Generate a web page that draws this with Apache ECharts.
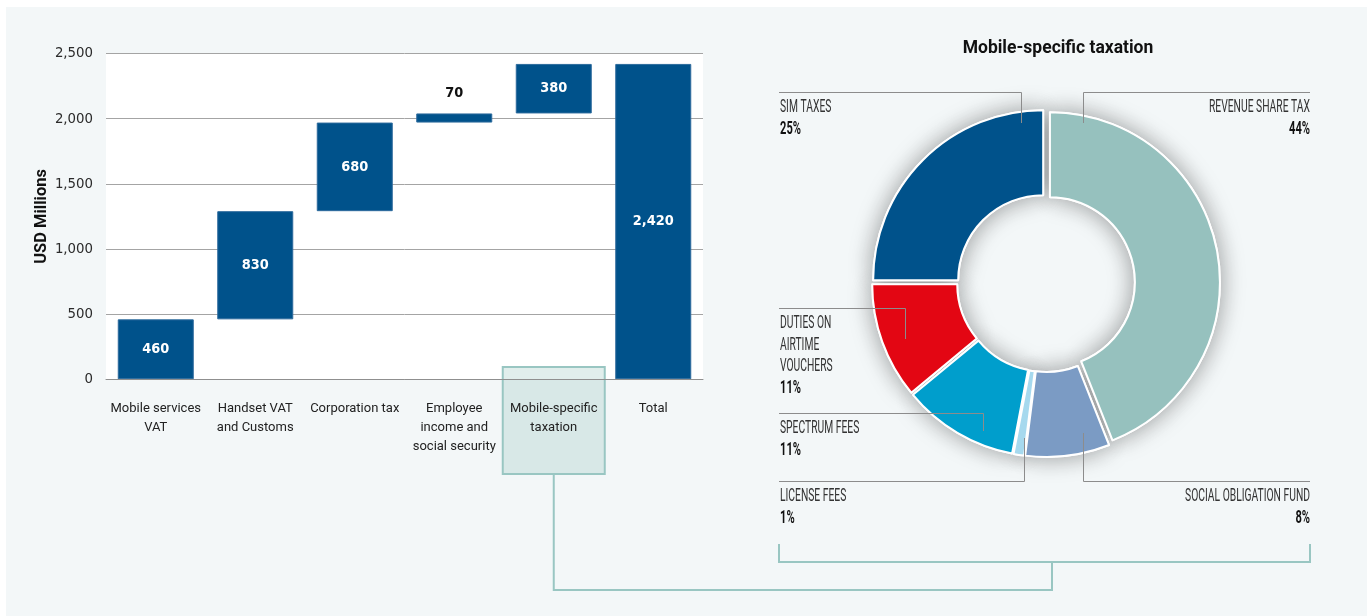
<!DOCTYPE html>
<html>
<head>
<meta charset="utf-8">
<script src="https://cdn.jsdelivr.net/npm/echarts@6/dist/echarts.min.js"></script>
<style>
  html, body { margin: 0; padding: 0; background: #ffffff; }
  #wrap { position: relative; width: 1371px; height: 616px; overflow: hidden; }
  #panel { position: absolute; left: 6px; top: 7px; width: 1361px; height: 609px; background: #f3f7f8; }
  #chart { position: absolute; left: 0; top: 0; width: 1371px; height: 616px; }
</style>
</head>
<body>
<div id="wrap"><div id="panel"></div><div id="chart"></div></div>
<script>
// Tax contribution by category (USD millions)
const categories = ['Mobile services\nVAT', 'Handset VAT\nand Customs', 'Corporation tax',
  'Employee\nincome and\nsocial security', 'Mobile-specific\ntaxation', 'Total'];
const increments = [460, 830, 680, 70, 380];
const total = 2420;
const yMin = 0, yMax = 2500, yStep = 500;

// Breakdown of mobile-specific taxation (% share)
const taxNames = ['REVENUE SHARE TAX', 'SOCIAL OBLIGATION FUND', 'LICENSE FEES',
  'SPECTRUM FEES', 'DUTIES ON\nAIRTIME\nVOUCHERS', 'SIM TAXES'];
const taxShares = [44, 8, 1, 11, 11, 25];
const taxColors = ['#96c1be', '#7b9bc4', '#a6d9ee', '#009ecc', '#e30613', '#00528b'];

// Callout geometry for the donut: an elbow line runs from inside a slice to a
// horizontal rule; the label sits just under the rule.
const callouts = [
  { ax: 1083.5, ay: 123, ly: 92.5, ex: 1310, align: 'right' },
  { ax: 1083.5, ay: 433, ly: 481.5, ex: 1310, align: 'right' },
  { ax: 1024.5, ay: 438, ly: 481.5, ex: 779, align: 'left' },
  { ax: 983.5, ay: 431, ly: 413.5, ex: 779, align: 'left' },
  { ax: 905.5, ay: 339, ly: 308.5, ex: 779, align: 'left' },
  { ax: 1021.5, ay: 123, ly: 92.5, ex: 779, align: 'left' }
];
const calloutLine = 21.5;

// Waterfall: each step starts where the previous one ended, the total starts at zero
const bases = [];
let running = 0;
increments.forEach(v => { bases.push(running); running += v; });
bases.push(0);
const stepValues = increments.concat([total]);

const fmt = v => v.toLocaleString('en-US');

// --- font helpers: use the narrowest installed sans face, sized to a target width
const measureCtx = document.createElement('canvas').getContext('2d');
function textWidth(text, font) { measureCtx.font = font; return measureCtx.measureText(text).width; }
function hasFont(family) {
  const probe = 'REVENUE SHARE 2,500 abcdefghij';
  return ['monospace', 'serif'].some(fb =>
    Math.abs(textWidth(probe, '40px "' + family + '", ' + fb) - textWidth(probe, '40px ' + fb)) > 0.5);
}
const narrowFamily = ['Liberation Sans Narrow', 'DejaVu Sans Condensed', 'Roboto'].find(hasFont) || 'sans-serif';
const narrow = '"' + narrowFamily + '", sans-serif';
function fitSize(text, weight, target) {
  const w = textWidth(text, weight + ' 100px ' + narrow);
  return Math.round(1000 * target / w) / 10;
}
const tickSize = Math.min(16, fitSize('2,500', 'normal', 38));
const barLabelSize = Math.min(17, fitSize('2,420', 'bold', 41));

// Callout text: tall letters squeezed horizontally
const calloutFont = 'normal 19px Roboto, sans-serif';
const calloutPctFont = 'bold 18px Roboto, sans-serif';
const nameScale = 101 / textWidth('REVENUE SHARE TAX', calloutFont);
const pctScale = 21 / textWidth('25%', calloutPctFont);

const chart = echarts.init(document.getElementById('chart'), null, { renderer: 'canvas' });

const pieCenter = [1046, 283];
const pieRadius = [85, 170];
const pieData = taxNames.map((n, i) => ({
  name: n.replace(/\n/g, ' '), value: taxShares[i], selected: true,
  itemStyle: { color: taxColors[i] }
}));

const pieCommon = {
  type: 'pie', center: pieCenter, radius: pieRadius, startAngle: 90, clockwise: true,
  selectedMode: 'multiple', selectedOffset: 4,
  label: { show: false }, labelLine: { show: false },
  select: { itemStyle: { borderColor: '#ffffff', borderWidth: 2 }, label: { show: false } },
  emphasis: { disabled: true },
  data: pieData
};

chart.setOption({
  animation: false,
  backgroundColor: 'transparent',
  title: {
    text: 'Mobile-specific taxation',
    left: 1053, top: 35, textAlign: 'center',
    textStyle: { fontFamily: 'Roboto', fontWeight: 'bold', fontSize: 17.5, color: '#111111' }
  },
  grid: {
    left: 106, right: 668, top: 53.5, bottom: 236.7,
    show: true, backgroundColor: '#ffffff', borderWidth: 0
  },
  xAxis: {
    type: 'category',
    z: 30,
    data: categories,
    axisLine: { show: true, lineStyle: { color: '#8f8f8f', width: 1 } },
    axisTick: { show: false },
    axisLabel: {
      interval: 0, margin: 20, lineHeight: 19,
      fontFamily: 'Roboto', fontSize: 13, color: '#222222'
    }
  },
  yAxis: {
    type: 'value',
    min: yMin, max: yMax, interval: yStep,
    name: 'USD Millions', nameLocation: 'middle', nameGap: 56, nameRotate: 90,
    nameTextStyle: { fontFamily: 'Roboto', fontWeight: 'bold', fontSize: 16.5, color: '#111111' },
    axisLine: { show: false },
    axisTick: { show: false },
    splitLine: { lineStyle: { color: '#a4a4a4', width: 1 } },
    axisLabel: {
      margin: 13, fontFamily: narrow, fontSize: tickSize, color: '#2b2b2b',
      formatter: v => fmt(v)
    }
  },
  series: [
    {
      name: 'base', type: 'bar', stack: 'waterfall', silent: true,
      barWidth: 76,
      itemStyle: { color: 'transparent' },
      data: bases
    },
    {
      name: 'USD Millions', type: 'bar', stack: 'waterfall',
      barWidth: 76,
      itemStyle: { color: '#00528b', borderColor: '#2c6a9c', borderWidth: 1 },
      emphasis: { disabled: true },
      data: stepValues.map(v => ({
        value: v,
        label: v < 150
          ? { position: 'top', distance: 13, color: '#111111' }
          : { position: 'inside', color: '#ffffff' }
      })),
      label: {
        show: true, fontFamily: narrow, fontWeight: 'bold', fontSize: barLabelSize,
        formatter: p => fmt(p.value)
      }
    },
    Object.assign({}, pieCommon, {
      // soft shadow under the donut
      silent: true, z: 1,
      itemStyle: { borderColor: '#ffffff', borderWidth: 2, shadowBlur: 24, shadowColor: 'rgba(0,0,0,0.38)' }
    }),
    Object.assign({}, pieCommon, {
      name: 'Mobile-specific taxation', z: 3,
      itemStyle: { borderColor: '#ffffff', borderWidth: 2 }
    })
  ]
});

// Donut callouts: elbow lines plus name / share labels
const calloutGraphics = [];
callouts.forEach((c, i) => {
  calloutGraphics.push({
    type: 'polyline', z: 20, silent: true,
    shape: { points: [[c.ax, c.ay], [c.ax, c.ly], [c.ex, c.ly]] },
    style: { fill: null, stroke: '#8c8c8c', lineWidth: 1 }
  });
  const lines = taxNames[i].split('\n');
  lines.forEach((s, k) => {
    calloutGraphics.push({
      type: 'text', z: 20, silent: true,
      x: c.ex + (c.align === 'left' ? 1 : 0), y: c.ly + 15 + k * calloutLine,
      scaleX: nameScale,
      style: { text: s, font: calloutFont, fill: '#333333',
        align: c.align, textAlign: c.align, verticalAlign: 'middle', textVerticalAlign: 'middle' }
    });
  });
  calloutGraphics.push({
    type: 'text', z: 20, silent: true,
    x: c.ex + (c.align === 'left' ? 1 : 0), y: c.ly + 15 + lines.length * calloutLine,
    scaleX: pctScale,
    style: { text: taxShares[i] + '%', font: calloutPctFont, fill: '#111111',
      align: c.align, textAlign: c.align, verticalAlign: 'middle', textVerticalAlign: 'middle' }
  });
});

// Highlight box around the mobile-specific category, joined to a bracket under the donut
const catX = chart.convertToPixel({ xAxisIndex: 0 }, 4);
const teal = '#99c6c2';
const stemX = 1052, bracketY = 562, joinY = 590;
chart.setOption({
  graphic: calloutGraphics.concat([
    {
      type: 'rect', z: 20, silent: true,
      shape: { x: catX - 51, y: 367, width: 102, height: 107 },
      style: { fill: 'rgba(150,195,190,0.29)', stroke: teal, lineWidth: 2 }
    },
    {
      type: 'polyline', z: 20, silent: true,
      shape: { points: [[catX, 474], [catX, joinY], [stemX, joinY], [stemX, bracketY]] },
      style: { fill: null, stroke: teal, lineWidth: 2 }
    },
    {
      type: 'polyline', z: 20, silent: true,
      shape: { points: [[779, 544], [779, bracketY], [1310, bracketY], [1310, 544]] },
      style: { fill: null, stroke: teal, lineWidth: 2 }
    }
  ])
});
</script>
</body>
</html>
